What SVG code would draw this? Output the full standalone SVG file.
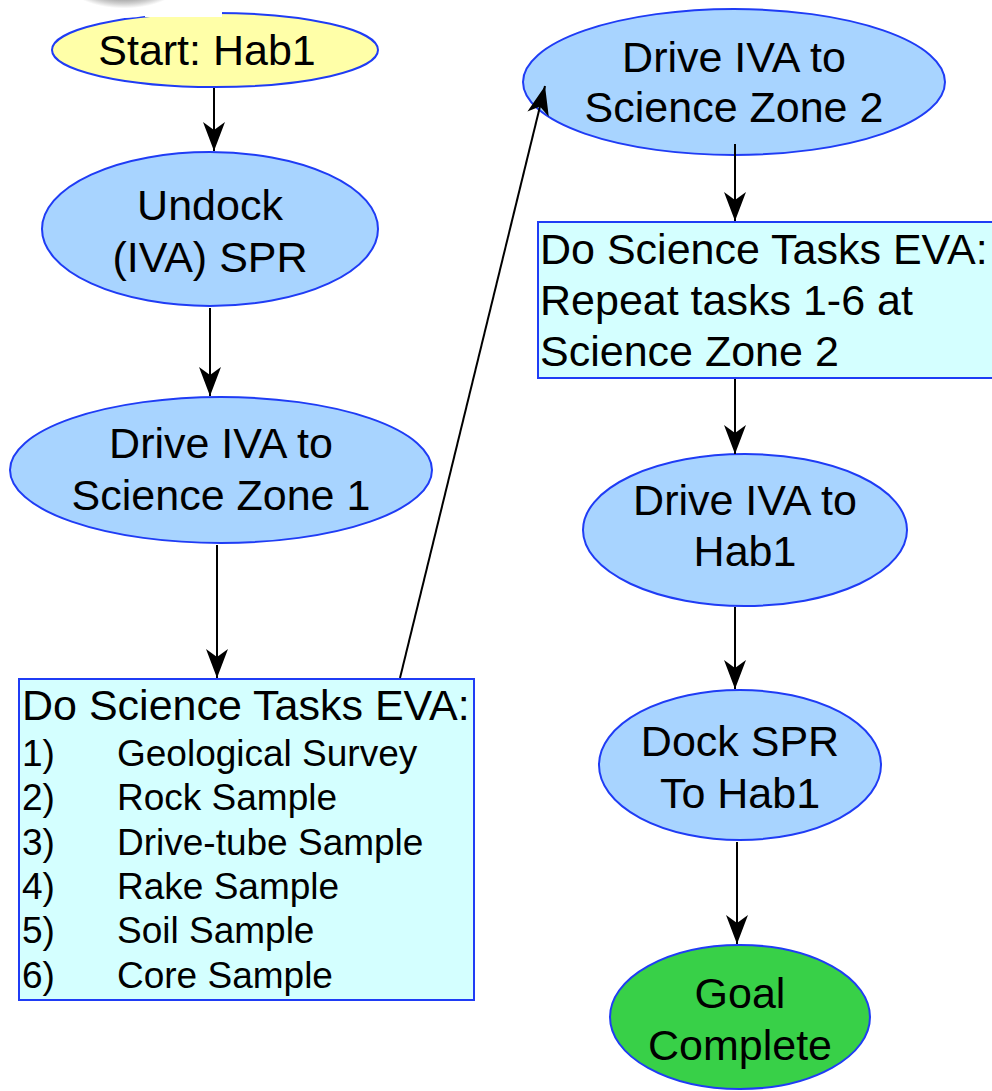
<svg xmlns="http://www.w3.org/2000/svg" width="992" height="1091" viewBox="0 0 992 1091">
<defs>
<marker id="arr" markerUnits="userSpaceOnUse" markerWidth="32" markerHeight="24" viewBox="0 0 32 24" refX="30" refY="12" orient="auto">
<path d="M30,12 L1,1 L9,12 L1,23 Z" fill="#000"/>
</marker>
<radialGradient id="blob" cx="0.5" cy="0.35" r="0.5">
<stop offset="0" stop-color="#5a5a5a"/>
<stop offset="0.6" stop-color="#8a8a8a"/>
<stop offset="0.85" stop-color="#cfcfcf"/>
<stop offset="1" stop-color="#ffffff"/>
</radialGradient>
</defs>
<style>
.n{stroke:#1f3cf5;stroke-width:2}
.y{fill:#ffffa8}
.b{fill:#a8d4ff}
.c{fill:#d4ffff}
.g{fill:#38d048}
.t{font-family:"Liberation Sans",Arial,sans-serif;font-size:43px;fill:#000}
.m{text-anchor:middle}
.s{font-size:37px}
.e{stroke:#000;stroke-width:2;fill:none;marker-end:url(#arr)}
</style>
<rect width="992" height="1091" fill="#fff"/>
<g id="start">
<ellipse class="n y" cx="215" cy="50" rx="163" ry="37"/>
<rect x="145" y="0" width="77" height="17" fill="#fff"/>
<ellipse cx="124" cy="-14" rx="62" ry="32" fill="url(#blob)"/>
<text class="t m" x="207" y="65">Start: Hab1</text>
</g>
<g id="undock">
<ellipse class="n b" cx="210" cy="229" rx="168" ry="77"/>
<text class="t m" x="210" y="220">Undock</text>
<text class="t m" x="210" y="272">(IVA) SPR</text>
</g>
<g id="drive1">
<ellipse class="n b" cx="221" cy="470" rx="211" ry="73"/>
<text class="t m" x="221" y="458">Drive IVA to</text>
<text class="t m" x="221" y="510">Science Zone 1</text>
</g>
<g id="tasks1">
<rect class="n c" x="19" y="679" width="455" height="321"/>
<text class="t" x="22" y="720">Do Science Tasks EVA:</text>
<g class="t s">
<text x="22" y="766">1)</text><text x="117" y="766">Geological Survey</text>
<text x="22" y="810">2)</text><text x="117" y="810">Rock Sample</text>
<text x="22" y="855">3)</text><text x="117" y="855">Drive-tube Sample</text>
<text x="22" y="899">4)</text><text x="117" y="899">Rake Sample</text>
<text x="22" y="943">5)</text><text x="117" y="943">Soil Sample</text>
<text x="22" y="988">6)</text><text x="117" y="988">Core Sample</text>
</g>
</g>
<g id="drive2">
<ellipse class="n b" cx="734" cy="82" rx="211" ry="73"/>
<text class="t m" x="734" y="72">Drive IVA to</text>
<text class="t m" x="734" y="122">Science Zone 2</text>
</g>
<g id="tasks2">
<rect class="n c" x="538" y="222" width="470" height="156"/>
<text class="t" x="540" y="264">Do Science Tasks EVA:</text>
<text class="t" x="540" y="315">Repeat tasks 1-6 at</text>
<text class="t" x="540" y="366">Science Zone 2</text>
</g>
<g id="drivehab">
<ellipse class="n b" cx="745" cy="530" rx="162" ry="76"/>
<text class="t m" x="745" y="515">Drive IVA to</text>
<text class="t m" x="745" y="566">Hab1</text>
</g>
<g id="dock">
<ellipse class="n b" cx="740" cy="765" rx="141" ry="75"/>
<text class="t m" x="740" y="756">Dock SPR</text>
<text class="t m" x="740" y="808">To Hab1</text>
</g>
<g id="goal">
<ellipse class="n g" cx="740" cy="1017" rx="130" ry="72"/>
<text class="t m" x="740" y="1008">Goal</text>
<text class="t m" x="740" y="1060">Complete</text>
</g>
<g id="connectors">
<path class="e" d="M214,88 L214,151"/>
<path class="e" d="M210,308 L210,396"/>
<path class="e" d="M217,545 L217,678"/>
<path class="e" d="M400,678 L545,86"/>
<path class="e" d="M735,144 L735,221"/>
<path class="e" d="M735,379 L735,454"/>
<path class="e" d="M735,607 L735,689"/>
<path class="e" d="M737,842 L737,944"/>
</g>
</svg>
